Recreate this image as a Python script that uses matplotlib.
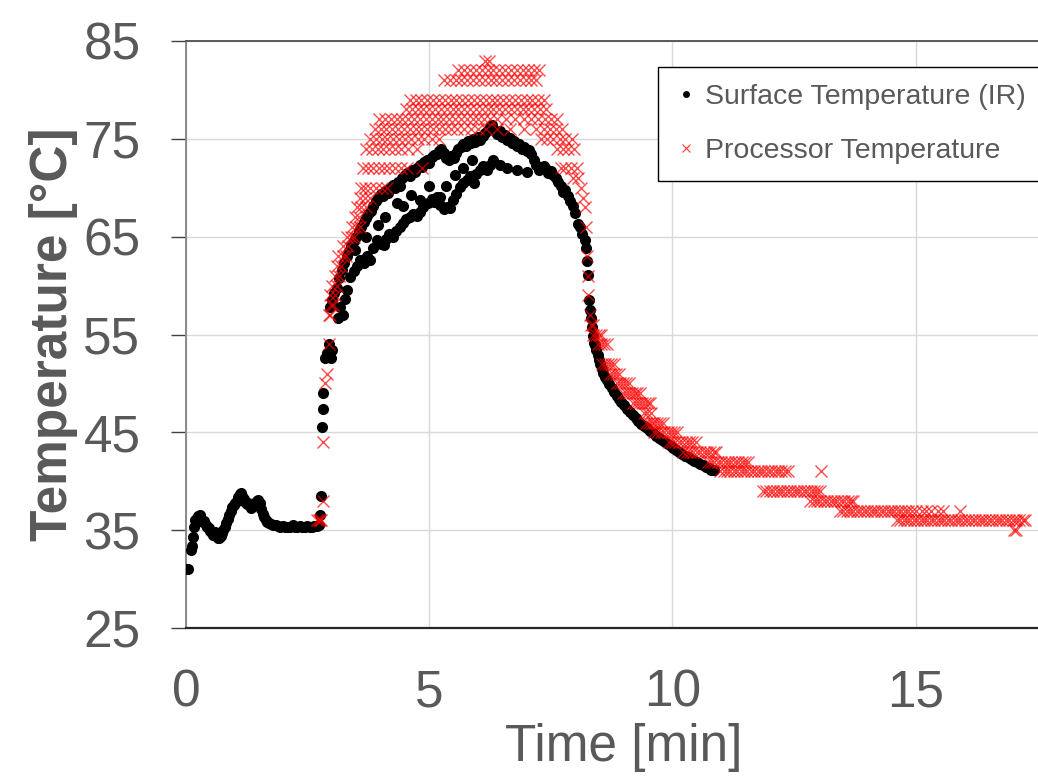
import numpy as np
import matplotlib
matplotlib.use("Agg")
import matplotlib.pyplot as plt
from matplotlib.lines import Line2D

plt.rcParams["font.family"] = ["Liberation Sans", "DejaVu Sans"]
GRAY = "#595959"

# ---- Surface temperature (IR camera), (time [min], temperature [degC]) ----
surface_base = [
    (0.00, 31.0), (0.05, 31.0), (0.10, 33.0), (0.12, 33.4), (0.15, 34.3), (0.17, 35.3), (0.19, 36.0),
    (0.22, 36.2), (0.25, 36.4), (0.29, 36.5), (0.32, 36.0), (0.35, 35.8), (0.38, 35.9), (0.41, 35.5),
    (0.44, 35.3), (0.47, 35.2), (0.50, 34.9), (0.53, 34.7), (0.56, 34.5), (0.59, 34.8), (0.62, 34.4),
    (0.65, 34.2), (0.68, 34.2), (0.71, 34.4), (0.74, 34.7), (0.77, 35.0), (0.80, 35.3), (0.83, 35.7),
    (0.86, 36.1), (0.89, 36.6), (0.92, 37.0), (0.95, 37.4), (0.98, 37.6), (1.01, 37.8), (1.04, 38.0),
    (1.07, 38.4), (1.10, 38.7), (1.13, 38.8), (1.16, 38.5), (1.19, 38.2), (1.22, 37.9), (1.25, 37.7),
    (1.28, 37.8), (1.31, 37.6), (1.34, 37.3), (1.37, 37.5), (1.40, 37.7), (1.43, 37.9), (1.46, 38.0),
    (1.49, 38.1), (1.52, 37.8), (1.55, 37.2), (1.58, 36.7), (1.61, 36.3), (1.64, 36.0), (1.67, 35.8),
    (1.71, 35.7), (1.75, 35.6), (1.79, 35.5), (1.84, 35.5), (1.89, 35.4), (1.94, 35.3), (1.99, 35.4),
    (2.04, 35.3), (2.09, 35.3), (2.14, 35.3), (2.19, 35.5), (2.24, 35.3), (2.29, 35.3), (2.34, 35.4),
    (2.39, 35.3), (2.44, 35.3), (2.49, 35.4), (2.54, 35.3), (2.59, 35.3), (2.64, 35.4), (2.69, 35.4),
    (2.73, 35.5),
]
surface_jump = [
    (2.76, 36.5), (2.78, 38.5), (2.79, 45.5), (2.81, 47.4), (2.82, 49.0), (2.86, 52.6), (2.89, 53.1),
    (2.93, 54.0), (2.98, 52.6), (3.01, 53.4),
]
surface_upper = [
    (2.96, 57.8), (3.00, 58.5), (3.05, 59.2), (3.10, 59.8), (3.15, 60.8), (3.20, 61.6), (3.25, 62.3),
    (3.30, 63.0), (3.35, 63.5), (3.40, 64.0), (3.45, 64.6), (3.50, 65.0), (3.55, 65.6), (3.60, 66.0),
    (3.65, 66.5), (3.70, 66.9), (3.75, 67.3), (3.80, 67.6), (3.85, 68.1), (3.90, 68.6), (3.95, 69.0),
    (4.00, 69.4), (4.05, 69.2), (4.10, 69.7), (4.15, 69.5), (4.20, 70.0), (4.25, 70.3), (4.30, 70.0),
    (4.35, 70.6), (4.40, 70.2), (4.45, 71.0), (4.50, 71.3), (4.55, 71.5), (4.60, 71.2), (4.65, 71.8),
    (4.70, 71.6), (4.75, 72.0), (4.80, 72.3), (4.85, 72.1), (4.90, 72.6), (4.95, 72.8), (5.00, 72.5),
    (5.05, 73.1), (5.10, 73.3), (5.15, 73.5), (5.20, 73.8), (5.25, 74.0), (5.30, 73.6), (5.35, 73.0),
    (5.40, 72.8), (5.45, 73.2), (5.50, 73.0), (5.55, 73.6), (5.60, 74.0), (5.65, 74.2), (5.70, 74.5),
    (5.75, 74.3), (5.80, 74.8), (5.85, 74.6), (5.90, 75.0), (5.95, 74.7), (6.00, 75.2), (6.05, 74.9),
    (6.10, 75.3), (6.15, 75.6), (6.20, 75.9), (6.25, 76.2), (6.30, 76.4), (6.35, 75.8), (6.40, 75.5),
    (6.45, 75.8), (6.50, 75.2), (6.55, 75.4), (6.60, 74.9), (6.65, 75.1), (6.70, 74.6), (6.75, 74.8),
    (6.80, 74.3), (6.85, 74.5), (6.90, 74.0), (6.95, 74.2), (7.00, 73.8), (7.05, 73.9), (7.10, 73.5),
    (7.15, 72.8), (7.20, 72.3), (7.25, 71.8), (7.30, 72.0), (7.35, 72.2), (7.40, 71.9), (7.45, 71.5),
    (7.50, 71.7), (7.55, 71.3), (7.60, 71.0), (7.65, 70.6), (7.70, 70.2), (7.75, 69.6), (7.80, 69.8),
    (7.85, 69.2), (7.90, 68.6), (7.95, 68.1), (8.00, 67.4), (8.05, 66.3), (8.10, 66.0), (8.15, 65.3),
    (8.20, 64.7), (8.22, 63.8), (8.24, 62.5), (8.26, 61.1), (8.28, 58.5), (8.30, 57.5), (8.32, 56.7),
    (8.34, 55.8), (8.36, 54.8), (8.38, 54.1),
]
surface_lower = [
    (3.12, 56.7), (3.17, 57.8), (3.22, 57.0), (3.27, 58.6), (3.31, 59.5), (3.37, 60.9), (3.45, 61.5),
    (3.52, 62.0), (3.58, 62.6), (3.66, 62.3), (3.72, 63.0), (3.78, 62.6), (3.85, 63.8), (3.92, 64.7),
    (4.00, 64.3), (4.06, 64.1), (4.12, 64.8), (4.18, 65.3), (4.26, 65.0), (4.32, 65.6), (4.40, 66.0),
    (4.47, 66.4), (4.53, 66.8), (4.60, 67.0), (4.67, 67.3), (4.74, 67.1), (4.81, 67.5), (4.88, 68.0),
    (4.98, 68.4), (5.05, 68.8), (5.10, 68.5), (5.15, 69.1), (5.23, 68.2), (5.30, 67.8), (5.36, 68.0),
    (5.43, 67.9), (5.49, 68.7), (5.56, 69.4), (5.63, 70.1), (5.70, 70.5), (5.77, 70.8), (5.84, 71.2),
    (5.91, 70.5), (5.97, 71.4), (6.04, 71.8), (6.11, 72.2), (6.18, 71.8), (6.25, 72.3), (6.32, 72.8),
    (6.45, 72.3), (6.60, 72.0), (6.80, 71.8), (7.00, 71.6),
]
surface_scatter = [
    (3.48, 63.6), (3.70, 65.0), (3.95, 66.2), (4.10, 67.0), (4.33, 68.4), (4.47, 68.1), (4.62, 69.3),
    (4.81, 68.7), (5.00, 70.2), (5.22, 69.1), (5.35, 70.2), (5.52, 71.3), (5.70, 72.0), (5.88, 72.8),
]
surface_decay = [
    (8.40, 53.9), (8.43, 53.4), (8.46, 52.9), (8.49, 52.4), (8.52, 52.0), (8.55, 51.5), (8.58, 51.1),
    (8.62, 50.7), (8.66, 50.3), (8.70, 49.9), (8.75, 49.5), (8.80, 49.1), (8.85, 48.7), (8.90, 48.4),
    (8.95, 48.1), (9.00, 47.8), (9.06, 47.4), (9.12, 47.1), (9.18, 46.8), (9.24, 46.5), (9.30, 46.2),
    (9.36, 45.9), (9.42, 45.6), (9.48, 45.4), (9.54, 45.1), (9.60, 44.9), (9.66, 44.6), (9.72, 44.4),
    (9.78, 44.2), (9.84, 44.0), (9.90, 43.8), (9.96, 43.6), (10.02, 43.4), (10.08, 43.2), (10.14, 43.0),
    (10.20, 42.8), (10.26, 42.6), (10.32, 42.5), (10.38, 42.3), (10.44, 42.1), (10.50, 42.0),
    (10.56, 41.8), (10.62, 41.7), (10.68, 41.5), (10.74, 41.4), (10.80, 41.2), (10.86, 41.1),
]

# ---- Processor temperature (integer readings): (level [degC], times [min]) ----
proc_start_rows = [
    (36, [2.70, 2.73, 2.75, 2.77]),
    (38, [2.81]),
    (44, [2.82]),
    (50, [2.86]),
    (51, [2.89]),
    (54, [2.94]),
]
proc_peak_rows = [
    (57, [2.93, 2.97]),
    (58, [2.98, 3.03]),
    (59, [2.96, 3.06]),
    (60, [3.01, 3.10]),
    (61, [3.06, 3.15]),
    (62, [3.11, 3.18]),
    (63, [3.13, 3.22, 3.28]),
    (64, [3.23, 3.32]),
    (65, [3.30, 3.39, 3.46]),
    (66, [3.41, 3.50, 3.57]),
    (67, [3.47, 3.55]),
    (68, [3.51, 3.60, 3.70]),
    (69, [3.58, 3.67, 3.78]),
    (70, [3.59, 3.68, 3.79, 3.90, 4.02, 4.14, 8.12]),
    (69, [8.16]),
    (68, [8.20]),
    (71, [7.95, 8.06]),
    (72, [3.64, 3.74, 3.85, 3.96, 4.07, 4.18, 4.30, 4.42, 4.55, 4.85, 7.70, 7.80, 7.92, 8.04]),
    (74, [3.71, 3.82, 3.94, 4.05, 4.17, 4.29, 4.41, 4.56, 4.74, 7.62, 7.74, 7.86, 7.97]),
    (75, [3.78, 3.90, 4.02, 4.14, 4.26, 4.38, 4.50, 4.63, 4.76, 4.90, 5.05, 5.20, 7.30, 7.42, 7.55,
          7.68, 7.80, 7.93]),
    (76, [3.88, 4.00, 4.12, 4.24, 4.36, 4.48, 4.60, 4.72, 4.84, 4.96, 5.08, 5.20, 5.32, 5.45, 5.58,
          5.72, 5.86, 6.00, 6.16, 6.40, 6.65, 6.95, 7.20, 7.35, 7.48, 7.60, 7.72]),
    (77, [3.97, 4.09, 4.21, 4.33, 4.45, 4.57, 4.69, 4.81, 4.93, 5.05, 5.17, 5.29, 5.41, 5.53, 5.65,
          5.77, 5.89, 6.01, 6.13, 6.25, 6.40, 6.58, 6.76, 6.94, 7.10, 7.24, 7.38, 7.50, 7.62]),
    (78, [4.52, 4.64, 4.76, 4.88, 5.00, 5.12, 5.24, 5.36, 5.48, 5.60, 5.72, 5.84, 5.96, 6.08, 6.20,
          6.32, 6.44, 6.56, 6.68, 6.80, 6.92, 7.04, 7.16, 7.28, 7.40]),
    (79, [4.60, 4.72, 4.84, 4.96, 5.08, 5.20, 5.32, 5.44, 5.56, 5.68, 5.80, 5.92, 6.04, 6.16, 6.28,
          6.40, 6.52, 6.64, 6.76, 6.88, 7.00, 7.12, 7.24, 7.36]),
    (81, [5.30, 5.42, 5.54, 5.66, 5.78, 5.90, 6.02, 6.14, 6.26, 6.38, 6.50, 6.62, 6.74, 6.86, 6.98,
          7.10, 7.20]),
    (82, [5.60, 5.72, 5.84, 5.96, 6.08, 6.20, 6.32, 6.44, 6.56, 6.68, 6.80, 6.92, 7.04, 7.16, 7.26]),
    (83, [6.15, 6.22]),
]
proc_decay_rows = [
    (66, [8.23]), (63, [8.25]), (61, [8.26]), (59, [8.27]), (57, [8.30]),
    (56, [8.33, 8.37]),
    (55, [8.36, 8.42, 8.48, 8.54]),
    (54, [8.47, 8.53, 8.59, 8.65]),
    (52, [8.56, 8.62, 8.68, 8.74, 8.79]),
    (51, [8.72, 8.78, 8.84, 8.90]),
    (50, [8.86, 8.92, 8.98, 9.04, 9.10]),
    (49, [8.98, 9.04, 9.10, 9.16, 9.22, 9.28, 9.33]),
    (48, [9.19, 9.25, 9.31, 9.37, 9.43, 9.49, 9.54]),
    (47, [9.42, 9.48, 9.55]),
    (46, [9.45, 9.51, 9.57, 9.63, 9.69, 9.75, 9.80]),
    (45, [9.62, 9.69, 9.76, 9.83, 9.90, 9.97, 10.04, 10.10]),
    (44, [9.92, 9.99, 10.06, 10.13, 10.20, 10.27, 10.34, 10.41, 10.48]),
    (43, [10.22, 10.29, 10.36, 10.43, 10.50, 10.57, 10.64, 10.71, 10.78, 10.85, 10.90]),
    (42, [10.72, 10.79, 10.86, 10.93, 11.00, 11.07, 11.14, 11.21, 11.28, 11.35, 11.42, 11.49, 11.55]),
    (41, [10.98, 11.05, 11.12, 11.19, 11.26, 11.33, 11.40, 11.47, 11.54, 11.61, 11.68, 11.75, 11.82,
          11.89, 11.96, 12.03, 12.10, 12.17, 12.24, 12.31, 12.38, 13.06]),
    (39, [11.86, 11.93, 12.00, 12.07, 12.14, 12.21, 12.28, 12.35, 12.42, 12.49, 12.56, 12.63, 12.70,
          12.77, 12.84, 12.91, 12.98, 13.03]),
    (38, [12.83, 12.90, 12.97, 13.04, 13.11, 13.18, 13.25, 13.32, 13.39, 13.46, 13.53, 13.60, 13.67,
          13.72]),
    (37, [13.44, 13.51, 13.58, 13.65, 13.72, 13.79, 13.86, 13.93, 14.00, 14.07, 14.14, 14.21, 14.28,
          14.35, 14.42, 14.49, 14.56, 14.63, 14.70, 14.77, 14.84, 14.92, 15.00, 15.12, 15.22, 15.32,
          15.45, 15.55, 15.90]),
    (36, [14.61, 14.68, 14.75, 14.82, 14.89, 14.96, 15.03, 15.10, 15.17, 15.24, 15.31, 15.38, 15.45,
          15.52, 15.59, 15.66, 15.73, 15.80, 15.87, 15.94, 16.01, 16.08, 16.15, 16.22, 16.29, 16.36,
          16.43, 16.50, 16.57, 16.64, 16.71, 16.78, 16.85, 16.92, 16.99, 17.06, 17.13, 17.20, 17.25]),
    (35, [17.02, 17.07]),
]


def pairs(*groups):
    t = [p[0] for g in groups for p in g]
    v = [p[1] for g in groups for p in g]
    return np.array(t), np.array(v)


def rows(*groups):
    t, v = [], []
    for g in groups:
        for level, times in g:
            t += times
            v += [level] * len(times)
    return np.array(t), np.array(v, dtype=float)


st, sT = pairs(surface_base, surface_jump, surface_upper, surface_lower, surface_scatter,
               surface_decay)
pt, pT = rows(proc_start_rows, proc_peak_rows, proc_decay_rows)

fig = plt.figure(figsize=(10.38, 7.76), dpi=100)
# axes run past the right edge of the picture, as in the cropped original
ax = fig.add_axes([186 / 1038, 148 / 776, 18 * 48.65 / 1038, 587 / 776])
ax.set_xlim(0, 18)
ax.set_ylim(25, 85)
ax.set_xticks([0, 5, 10, 15])
ax.set_yticks(np.arange(25, 86, 10))
ax.grid(True, color="#d9d9d9", lw=1.0)
ax.set_axisbelow(True)

ax.spines["left"].set_color("#898989")
ax.spines["left"].set_linewidth(1.4)
ax.spines["top"].set_color("#595959")
ax.spines["top"].set_linewidth(1.4)
ax.spines["bottom"].set_color("#262626")
ax.spines["bottom"].set_linewidth(1.6)
ax.spines["right"].set_visible(False)

ax.plot(st, sT, ls="none", marker="o", ms=8.0, mew=0, color="black", zorder=3)
ax.plot(pt, pT, ls="none", marker="x", ms=9.0, mew=1.0, color="red", alpha=0.7, zorder=4)

ax.tick_params(axis="y", direction="out", length=10.8, width=1.0, color="#404040",
               pad=22, labelsize=37, labelcolor=GRAY)
ax.tick_params(axis="x", length=0, pad=29, labelsize=37, labelcolor=GRAY)
ax.set_ylabel("Temperature [°C]", fontsize=37, fontweight="bold", color=GRAY, labelpad=4)
ax.set_xlabel("Time [min]", fontsize=37, color=GRAY, labelpad=4)

handles = [Line2D([], [], ls="none", marker="o", ms=5.0, mew=0, color="black"),
           Line2D([], [], ls="none", marker="x", ms=6.0, mew=0.8, color="red", alpha=0.8)]
leg = ax.legend(handles, ["Surface Temperature (IR)", "Processor Temperature"],
                loc="upper left", bbox_to_anchor=((658 - 186) / (18 * 48.65), (628 - 67) / 587),
                borderaxespad=0, fontsize=20.5, frameon=True, fancybox=False, edgecolor="black",
                framealpha=1, borderpad=0.6, handlelength=0.8, handletextpad=0.26,
                labelspacing=0.98, labelcolor=GRAY)
leg.get_frame().set_linewidth(1.0)

fig.savefig("out.png", dpi=100)
